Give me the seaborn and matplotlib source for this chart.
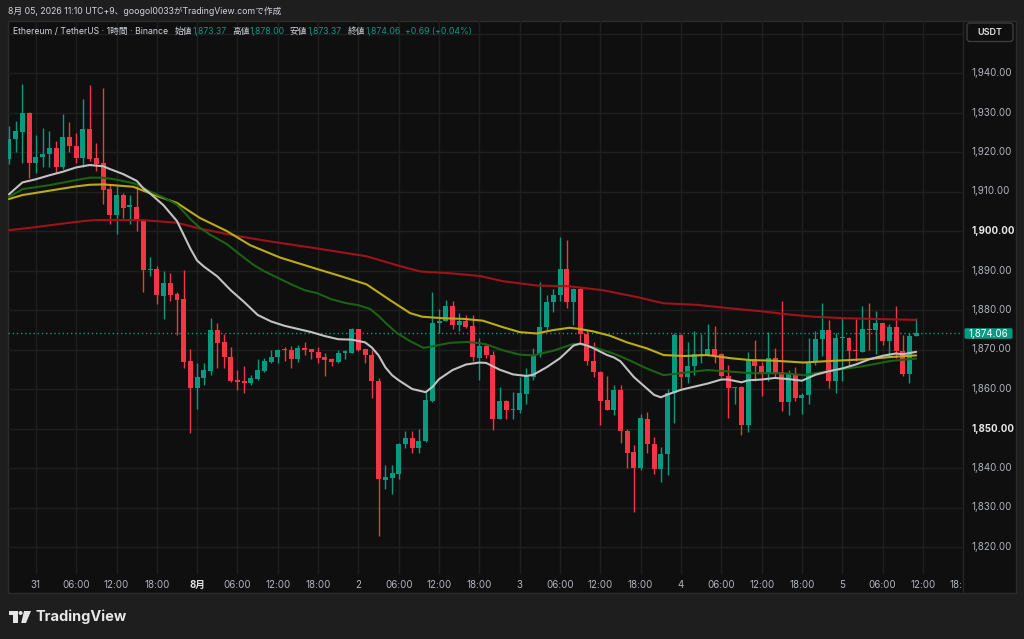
import numpy as np
import pandas as pd
import matplotlib
matplotlib.use("Agg")
import matplotlib.pyplot as plt
import seaborn as sns
from matplotlib.patches import Rectangle, FancyBboxPatch, Polygon, Circle

# ---------------- data (1h candles, ETH/USDT) ----------------
opens = [1918.2, 1923.2, 1925.1, 1929.8, 1917.3, 1918.7, 1919.4, 1920.9, 1916.1, 1923.7,
         1921.6, 1918.6, 1925.8, 1918.4, 1917.2, 1910.6, 1904.0, 1909.1, 1906.2, 1906.2,
         1902.7, 1890.1, 1890.5, 1883.5, 1886.9, 1884.0, 1882.7, 1867.1, 1860.2, 1862.9,
         1864.6, 1875.0, 1871.8, 1868.2, 1862.25, 1861.9, 1861.4, 1862.5, 1864.6, 1866.9,
         1868.1, 1870.2, 1869.8, 1867.5, 1870.4, 1870.0, 1869.4, 1868.0, 1867.5, 1866.75,
         1869.1, 1869.2, 1875.2, 1870.0, 1868.7, 1862.1, 1837.0, 1837.5, 1838.6, 1846.0,
         1847.5, 1845.0, 1846.9, 1856.9, 1876.7, 1877.3, 1881.1, 1876.1, 1877.3, 1876.0,
         1867.9, 1871.0, 1868.7, 1852.5, 1856.9, 1854.7, 1854.8, 1858.8, 1863.1, 1868.5,
         1875.65, 1882.0, 1883.7, 1890.4, 1882.0, 1885.2, 1873.8, 1867.2, 1864.3, 1857.1,
         1854.8, 1859.7, 1849.3, 1844.0, 1839.9, 1852.3, 1846.1, 1839.7, 1843.5, 1859.1,
         1873.7, 1863.1, 1865.8, 1868.4, 1868.6, 1870.0, 1868.8, 1863.3, 1860.2, 1860.4,
         1850.9, 1867.5, 1865.8, 1864.0, 1867.8, 1864.4, 1856.8, 1863.7, 1857.7, 1858.6,
         1866.8, 1872.7, 1875.0, 1862.1, 1872.9, 1872.9, 1869.7, 1869.4, 1875.25, 1875.0,
         1876.7, 1872.1, 1875.6, 1869.6, 1863.75, 1873.37]
highs = [1926.5, 1927.9, 1937.2, 1930.2, 1924.3, 1926.0, 1925.4, 1922.8, 1929.6, 1927.5,
         1924.7, 1933.4, 1937.0, 1922.2, 1936.2, 1911.9, 1911.4, 1909.6, 1909.1, 1911.3,
         1903.0, 1893.3, 1891.2, 1889.8, 1889.4, 1884.6, 1890.2, 1870.2, 1866.5, 1866.7,
         1878.1, 1876.7, 1874.0, 1870.7, 1864.8, 1865.7, 1863.5, 1867.7, 1867.9, 1870.0,
         1870.25, 1870.6, 1870.8, 1871.1, 1871.8, 1870.2, 1870.7, 1869.0, 1867.75, 1870.0,
         1869.8, 1875.4, 1875.3, 1870.2, 1869.8, 1862.9, 1840.8, 1840.75, 1846.25, 1849.4,
         1849.4, 1849.8, 1859.2, 1884.6, 1880.2, 1882.5, 1882.3, 1879.2, 1878.75, 1878.75,
         1872.95, 1871.3, 1869.6, 1860.5, 1857.2, 1859.2, 1863.1, 1865.35, 1870.4, 1887.1,
         1883.9, 1885.4, 1898.5, 1897.7, 1885.6, 1885.6, 1875.2, 1871.9, 1864.5, 1863.25,
         1860.9, 1861.1, 1849.75, 1845.7, 1853.7, 1854.3, 1847.9, 1845.4, 1859.9, 1874.1,
         1873.9, 1872.0, 1874.7, 1873.8, 1876.5, 1876.0, 1869.0, 1866.1, 1860.6, 1860.75,
         1869.45, 1872.4, 1866.9, 1874.5, 1870.5, 1882.4, 1864.8, 1865.6, 1859.0, 1872.9,
         1874.6, 1881.7, 1877.5, 1874.2, 1877.9, 1873.1, 1877.7, 1881.0, 1881.7, 1879.8,
         1876.8, 1876.4, 1881.0, 1873.75, 1874.3, 1878.0]
lows = [1916.9, 1919.9, 1917.3, 1913.5, 1914.8, 1916.1, 1916.3, 1914.8, 1915.7, 1920.0,
        1917.3, 1916.3, 1917.8, 1915.2, 1906.8, 1901.7, 1899.2, 1903.2, 1901.7, 1900.1,
        1884.6, 1888.5, 1881.5, 1877.75, 1882.3, 1873.6, 1865.2, 1848.9, 1855.0, 1860.9,
        1863.5, 1865.2, 1865.4, 1861.8, 1859.8, 1859.1, 1860.9, 1862.25, 1864.4, 1866.7,
        1866.5, 1867.1, 1865.4, 1866.9, 1868.5, 1867.7, 1866.7, 1863.3, 1865.8, 1866.7,
        1867.5, 1869.0, 1869.6, 1866.5, 1857.7, 1822.7, 1834.8, 1833.5, 1837.1, 1845.0,
        1843.75, 1843.9, 1846.7, 1856.7, 1874.2, 1877.1, 1875.2, 1874.8, 1875.4, 1867.1,
        1862.2, 1867.9, 1849.5, 1852.3, 1852.4, 1852.4, 1853.8, 1856.1, 1862.4, 1868.1,
        1874.9, 1879.45, 1882.2, 1880.5, 1876.3, 1871.7, 1866.0, 1863.0, 1851.0, 1854.7,
        1853.4, 1846.4, 1840.0, 1828.8, 1839.5, 1843.7, 1838.5, 1836.5, 1838.2, 1851.3,
        1860.2, 1861.6, 1863.5, 1866.7, 1868.35, 1866.7, 1863.1, 1852.6, 1856.2, 1848.4,
        1849.2, 1862.1, 1858.2, 1861.9, 1863.0, 1854.5, 1853.4, 1856.9, 1853.6, 1856.2,
        1866.0, 1868.3, 1860.2, 1858.9, 1862.1, 1865.8, 1867.1, 1869.4, 1870.0, 1868.75,
        1871.25, 1868.3, 1867.9, 1863.3, 1861.5, 1873.37]
closes = [1923.2, 1925.2, 1929.8, 1917.3, 1918.8, 1919.4, 1920.9, 1916.1, 1923.7, 1921.6,
          1918.6, 1925.8, 1918.2, 1916.9, 1910.4, 1904.0, 1909.1, 1905.9, 1906.4, 1902.6,
          1890.1, 1890.5, 1883.8, 1886.9, 1883.9, 1882.5, 1866.9, 1860.2, 1863.1, 1864.75,
          1875.0, 1871.7, 1868.1, 1862.1, 1861.8, 1861.4, 1862.7, 1864.75, 1867.1, 1868.2,
          1869.8, 1869.75, 1867.5, 1870.4, 1869.75, 1869.3, 1867.75, 1867.25, 1866.75, 1869.1,
          1869.5, 1875.2, 1869.8, 1868.5, 1862.0, 1837.1, 1837.7, 1838.75, 1846.1, 1847.5,
          1845.0, 1846.9, 1857.1, 1876.8, 1877.3, 1881.1, 1876.1, 1877.3, 1875.8, 1868.1,
          1871.0, 1868.5, 1852.3, 1856.9, 1854.8, 1855.05, 1858.9, 1863.25, 1868.7, 1875.7,
          1882.1, 1883.75, 1890.4, 1882.0, 1885.2, 1873.8, 1867.0, 1864.25, 1856.9, 1854.8,
          1859.7, 1849.3, 1843.8, 1840.0, 1852.6, 1846.1, 1839.7, 1843.5, 1859.1, 1873.7,
          1863.1, 1865.8, 1868.8, 1868.85, 1870.0, 1868.6, 1863.3, 1860.2, 1860.4, 1850.9,
          1867.5, 1865.8, 1864.0, 1867.8, 1864.1, 1856.8, 1863.8, 1857.7, 1858.6, 1866.8,
          1872.7, 1875.0, 1862.1, 1872.9, 1873.1, 1869.6, 1869.5, 1875.2, 1875.0, 1876.7,
          1872.1, 1875.6, 1869.6, 1863.75, 1873.3, 1874.06]

# moving averages (candle index, price)
ma_white_x = [0, 2, 4, 6, 8, 10, 12, 14, 15, 17, 19, 20, 21, 22, 23, 24, 25, 26, 27, 28,
              29, 31, 33, 35, 37, 39, 41, 43, 45, 47, 49, 51, 53, 54, 55, 56, 57, 58, 60, 62,
              63, 64, 66, 68, 70, 71, 73, 75, 77, 78, 80, 82, 84, 85, 86, 87, 89, 90, 91, 92,
              93, 94, 96, 97, 98, 100, 102, 104, 106, 107, 109, 110, 112, 114, 116, 118, 120, 122, 124, 126,
              128, 130, 132, 133, 135]
ma_white_y = [1909.3, 1912.3, 1913.1, 1914.1, 1915.0, 1916.1, 1916.7, 1916.4, 1915.7, 1914.4,
              1912.7, 1910.8, 1909.5, 1908.0, 1906.5, 1904.5, 1902.5, 1899.0, 1895.5, 1892.5,
              1891.0, 1888.5, 1885.0, 1882.0, 1878.75, 1877.1, 1876.0, 1875.2, 1874.4, 1873.4,
              1872.6, 1872.5, 1871.8, 1870.5, 1868.5, 1865.5, 1863.5, 1862.2, 1860.0, 1859.2,
              1860.5, 1862.5, 1864.8, 1866.2, 1866.7, 1866.6, 1864.9, 1863.7, 1863.3, 1863.6,
              1865.5, 1867.8, 1871.0, 1871.5, 1871.0, 1870.3, 1868.6, 1868.0, 1867.0, 1865.0,
              1863.0, 1861.5, 1858.5, 1857.9, 1858.6, 1859.8, 1860.6, 1861.4, 1862.4, 1862.4,
              1861.7, 1862.2, 1862.4, 1862.8, 1862.5, 1862.1, 1863.6, 1864.5, 1865.2, 1866.2,
              1867.5, 1868.4, 1869.0, 1868.8, 1869.4]
ma_green_x = [0, 2, 6, 10, 12, 14, 16, 18.5, 19, 21, 23, 25, 27, 28.4, 30, 32.4, 34.4, 36.4, 38, 40.3,
              42, 44, 45.8, 48, 50, 52, 53.7, 55, 56, 57.7, 59.7, 61.7, 63, 65.7, 68.2, 70, 71, 73.5, 76, 78,
              81, 84, 85.4, 87.4, 90.4, 92.4, 94.9, 97.4, 100.4, 103.9, 107.4, 110.4, 113.4, 116, 118.2, 122.2,
              127.2, 131.2, 135]
ma_green_y = [1908.6, 1910.6, 1911.6, 1912.9, 1913.5, 1913.5, 1913.0, 1912.1, 1911.8, 1910.0,
              1908.5, 1906.7, 1903.0, 1900.8, 1899.0, 1896.7, 1894.0, 1891.4, 1889.8, 1887.9,
              1886.5, 1885.0, 1884.3, 1882.7, 1881.8, 1881.2, 1880.3, 1878.5, 1876.8, 1874.2,
              1872.1, 1870.4, 1870.8, 1871.7, 1871.9, 1871.6, 1871.3, 1869.8, 1868.7, 1868.5,
              1869.7, 1871.4, 1871.3, 1870.4, 1868.7, 1867.2, 1865.2, 1863.5, 1864.1, 1864.8,
              1864.4, 1864.0, 1864.0, 1863.9, 1863.5, 1864.6, 1865.8, 1867.1, 1867.7]
ma_yellow_x = [0, 2, 6, 10, 12, 14, 17, 18.5, 21.5, 25, 28.4, 32.4, 35.9, 40.3, 45.8, 49.3, 53.2, 56.7, 59.7, 61.5,
               64.7, 67.7, 70.5, 73.5, 76, 78.5, 80.9, 83.4, 84.9, 86.9, 89.4, 91.9, 93.9, 94.9, 97.4, 100.4,
               103.9, 107.4, 110.4, 113.4, 116.4, 118.2, 122.2, 127.2, 131.2, 135]
ma_yellow_y = [1908.1, 1909.1, 1910.2, 1911.3, 1911.7, 1911.8, 1911.4, 1911.2, 1909.2, 1907.1,
               1903.3, 1900.0, 1896.4, 1893.3, 1890.4, 1888.6, 1886.5, 1882.5, 1879.2, 1878.3,
               1877.9, 1877.75, 1877.3, 1875.65, 1874.4, 1874.05, 1874.9, 1875.5, 1875.2, 1874.6,
               1873.5, 1871.85, 1870.8, 1870.3, 1868.6, 1868.35, 1868.6, 1867.8, 1867.3, 1867.2,
               1866.9, 1866.7, 1867.1, 1867.5, 1868.1, 1868.5]
ma_red_x = [0, 3.6, 8.6, 11.5, 13.5, 19.9, 25, 28.4, 33.4, 38.3, 45.8, 53.2, 58.2, 61.2, 65.6, 70.1,
            73.5, 78.5, 83.4, 88.4, 93.4, 97.4, 102.4, 107.4, 112.4, 116.4, 119.7, 124.7, 129.7, 135]
ma_red_y = [1900.2, 1900.9, 1902.0, 1902.6, 1902.8, 1902.75, 1902.1, 1900.6, 1898.9, 1897.5,
            1895.6, 1893.6, 1891.1, 1889.75, 1889.3, 1888.6, 1887.3, 1886.2, 1886.0, 1885.0,
            1883.3, 1881.7, 1881.3, 1880.4, 1879.6, 1878.8, 1878.3, 1877.9, 1877.7, 1877.5]

price_ticks = [1820, 1830, 1840, 1850, 1860, 1870, 1880, 1890, 1900, 1910, 1920, 1930, 1940]
bold_prices = [1850, 1900]
time_tick_idx = [4, 10, 16, 22, 28, 34, 40, 46, 52, 58, 64, 70, 76, 82, 88, 94, 100, 106,
                 112, 118, 124, 130, 136]
time_tick_labels = ["31", "06:00", "12:00", "18:00", "8月", "06:00", "12:00", "18:00", "2",
                    "06:00", "12:00", "18:00", "3", "06:00", "12:00", "18:00", "4", "06:00",
                    "12:00", "18:00", "5", "06:00", "12:00"]
last_price = 1874.06

# ---------------- styling ----------------
sns.set_theme(style="dark")
plt.rcParams['font.family'] = ['Inter', 'Noto Sans CJK JP', 'DejaVu Sans']

UP = '#089981'
DN = '#f23645'
TXT = '#b2b5be'
W, H = 1024, 639

fig = plt.figure(figsize=(W / 100, H / 100), dpi=100, facecolor='#1e1e1e')
renderer = fig.canvas.get_renderer()

# background panel in pixel coords
bg = fig.add_axes([0, 0, 1, 1], zorder=0)
bg.set_xlim(0, W); bg.set_ylim(H, 0); bg.axis('off')
bg.add_patch(Rectangle((7.5, 20.5), 1008, 572.5, facecolor='#0f0f0f', edgecolor='#2c2c2c', lw=1))
bg.plot([962.5, 962.5], [21, 592], color='#262626', lw=1)

# main price axes
ax = fig.add_axes([8 / W, 1 - 574 / H, 954 / W, 554 / H], zorder=1)
ax.set_facecolor('none')
ax.set_xlim(-1 / 6.72, 953 / 6.72)
ax.set_ylim(1940 - 501 / 3.95, 1940 + 53 / 3.95)
ax.set_xticks(time_tick_idx)
ax.set_yticks(price_ticks + [1950])
ax.grid(True, color='#1f1f1f', lw=1)
ax.tick_params(length=0, labelleft=False, labelbottom=False)
for s in ax.spines.values():
    s.set_visible(False)

o = np.array(opens); c = np.array(closes)
hi = np.array(highs); lo = np.array(lows)
idx = np.arange(len(o))
cols = np.where(c >= o, UP, DN)

ax.axhline(last_price, color=UP, lw=1, linestyle=(0, (1, 2)), zorder=1.5)
ax.vlines(idx, lo, hi, colors=cols, lw=1.0, zorder=2)
body_h = np.maximum(np.abs(c - o), 0.28)
ax.bar(idx, body_h, bottom=np.minimum(o, c), width=0.74, color=cols, linewidth=0, zorder=3)

for xs, ys, col in [(ma_red_x, ma_red_y, '#a01219'),
                    (ma_yellow_x, ma_yellow_y, '#bcac14'),
                    (ma_green_x, ma_green_y, '#1b6212'),
                    (ma_white_x, ma_white_y, '#c2c2c2')]:
    df = pd.DataFrame({'i': xs, 'p': ys})
    sns.lineplot(data=df, x='i', y='p', ax=ax, color=col, linewidth=1.5, zorder=4,
                 sort=False, estimator=None, legend=False)
ax.set_xlabel(''); ax.set_ylabel('')

# overlay for texts
ov = fig.add_axes([0, 0, 1, 1], zorder=5)
ov.set_xlim(0, W); ov.set_ylim(H, 0); ov.axis('off'); ov.set_facecolor('none')

def ypx(p):
    return 73 + (1940 - p) * 3.95

def xpx(i):
    return 9 + 6.72 * i

def fit_size(text, target_w, base=7.0, **kw):
    t = ov.text(0, 0, text, fontsize=base, **kw)
    w = t.get_window_extent(renderer).width
    t.remove()
    return base * target_w / w

for p in price_ticks:
    ov.text(971, ypx(p), f"{p:,.2f}", ha='left', va='center', fontsize=7,
            color='#e8e8e8' if p in bold_prices else TXT,
            fontweight='bold' if p in bold_prices else 'normal')

ov.add_patch(FancyBboxPatch((964.5, 328.2), 48, 10.6, boxstyle='round,pad=0,rounding_size=1.5',
                            facecolor=UP, edgecolor='none'))
ov.text(988.5, 333.6, f"{last_price:,.2f}", ha='center', va='center', fontsize=7, color='white')

ov.add_patch(FancyBboxPatch((967, 23), 46, 18.5, boxstyle='round,pad=0,rounding_size=3',
                            facecolor='none', edgecolor='#3c3c3c', lw=1))
ov.text(990, 32.3, "USDT", ha='center', va='center', fontsize=6.5, color='#e0e0e0',
        fontweight='semibold')

for i, lab in zip(time_tick_idx, time_tick_labels):
    ov.text(xpx(i), 585, lab, ha='center', va='center', fontsize=7,
            color='#e0e0e0' if lab == '8月' else TXT,
            fontweight='bold' if lab == '8月' else 'normal')
ov.text(950, 585, "18:", ha='left', va='center', fontsize=7, color=TXT)

# header texts
hdr = "8月 05, 2026 11:10 UTC+9、googol0033がTradingView.comで作成"
fs_h = fit_size(hdr, 275)
ov.text(7.5, 11.5, hdr, ha='left', va='center', fontsize=fs_h, color='#d1d4dc')

legend_parts = [(13, "Ethereum / TetherUS · 1時間 · Binance", '#d1d4dc'),
                (175, "始値", '#d1d4dc'), (192.7, "1,873.37", UP),
                (232.3, "高値", '#d1d4dc'), (250, "1,878.00", UP),
                (290, "安値", '#d1d4dc'), (307.3, "1,873.37", UP),
                (347.7, "終値", '#d1d4dc'), (365.7, "1,874.06", UP),
                (405, "+0.69 (+0.04%)", UP)]
fs_l = fit_size(legend_parts[0][1], 155)
for x0, t, col in legend_parts:
    ov.text(x0, 31.5, t, ha='left', va='center', fontsize=fs_l, color=col)

# TradingView logo
logo_col = '#e6e6e6'
ov.add_patch(Polygon([(8.5, 611), (17.5, 611), (17.5, 623), (13.2, 623), (13.2, 615), (8.5, 615)],
                     closed=True, facecolor=logo_col, edgecolor='none'))
ov.add_patch(Circle((20.6, 613), 2.0, facecolor=logo_col, edgecolor='none'))
ov.add_patch(Polygon([(24.0, 611), (31.0, 611), (26.0, 623), (21.2, 623)],
                     closed=True, facecolor=logo_col, edgecolor='none'))
ov.text(36, 617, "TradingView", ha='left', va='center', fontsize=10.5, color=logo_col,
        fontweight='bold')

fig.savefig("out.png", dpi=100, facecolor=fig.get_facecolor())
